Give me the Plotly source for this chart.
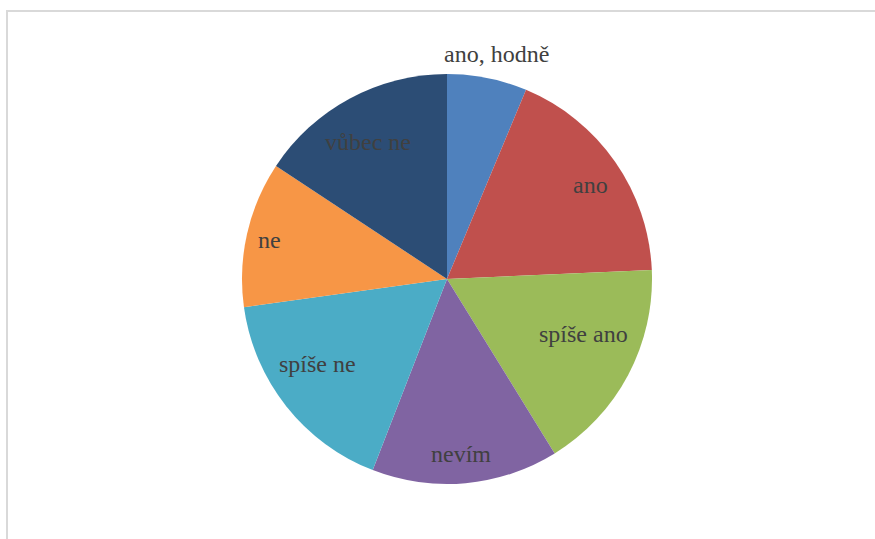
import math
import plotly.graph_objects as go

# Survey answers, clockwise from 12 o'clock
categories = ["ano, hodně", "ano", "spíše ano", "nevím", "spíše ne", "ne", "vůbec ne"]
shares = [6.3, 18.0, 16.9, 14.7, 16.9, 11.5, 15.7]
slice_colors = ["#4F81BD", "#C0504D", "#9BBB59", "#8064A2", "#4BACC6", "#F79646", "#2C4D75"]

# best-fit label placement: distance from centre (fraction of radius)
# and angular nudge (degrees) away from the slice's middle angle
label_radius = [1.123, 0.835, 0.716, 0.857, 0.758, 0.884, 0.771]
label_turn = [1.0, 1.6, -5.9, 0.6, 5.1, -0.4, -1.7]

W, H = 875, 539
cx, cy, r = 447, 279, 205

fig = go.Figure(
    go.Pie(
        labels=categories,
        values=shares,
        sort=False,
        direction="clockwise",
        rotation=0,
        marker=dict(colors=slice_colors, line=dict(width=0)),
        textinfo="none",
        hoverinfo="label+percent",
        showlegend=False,
        domain=dict(
            x=[(cx - r) / W, (cx + r) / W],
            y=[(H - cy - r) / H, (H - cy + r) / H],
        ),
    )
)

# category labels placed around each slice's middle angle
total = sum(shares)
start = 0.0
for name, val, k, turn in zip(categories, shares, label_radius, label_turn):
    mid = math.radians((start + val / 2) / total * 360 + turn)
    start += val
    px = cx + k * r * math.sin(mid)
    py = cy - k * r * math.cos(mid)
    fig.add_annotation(
        x=px / W, y=(H - py) / H, xref="paper", yref="paper",
        text=name, showarrow=False, xanchor="center", yanchor="middle",
        font=dict(family="Liberation Serif", size=24, color="#404040"),
    )

# light grey chart-area frame
fig.add_shape(
    type="rect", xref="paper", yref="paper",
    x0=7 / W, x1=1.2, y0=-0.2, y1=(H - 11) / H,
    line=dict(color="#D9D9D9", width=2), fillcolor="rgba(0,0,0,0)",
)

fig.update_layout(
    width=W, height=H,
    margin=dict(l=0, r=0, t=0, b=0),
    paper_bgcolor="white",
    plot_bgcolor="white",
)

fig.write_html("out.html")
